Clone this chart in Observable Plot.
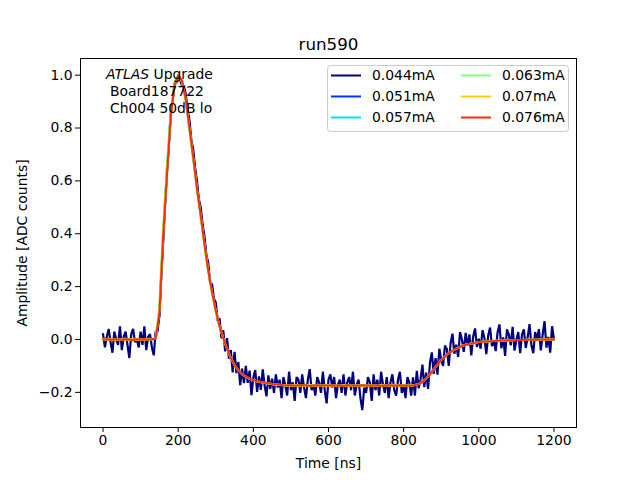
<!DOCTYPE html>
<html><head><meta charset="utf-8">
<script src="https://cdn.jsdelivr.net/npm/d3@7"></script>
<script src="https://cdn.jsdelivr.net/npm/@observablehq/plot@0.6"></script>
<style>
body{margin:0;background:#fff}
#chart{position:relative;width:640px;height:480px}
</style>
</head><body><div id="chart"></div>
<script>
const title = "run590";
const xLabel = "Time [ns]";
const yLabel = "Amplitude [ADC counts]";
const xTicks = [0, 200, 400, 600, 800, 1000, 1200];
const yTicks = [-0.2, 0, 0.2, 0.4, 0.6, 0.8, 1.0];
const seriesLabels = ["0.044mA", "0.051mA", "0.057mA", "0.063mA", "0.07mA", "0.076mA"];
const seriesColors = ["#00007f", "#0036ff", "#00e0ff", "#80ff7c", "#ffcc00", "#ff2e00"];
const noteLines = ["Upgrade", "Board187722", "Ch004 50dB lo"];

// sampling times: noisy series every 5 ns, smooth series every 10 ns
const tNoisy = d3.range(0, 1201, 5);
const tSmooth = d3.range(0, 1201, 10);

const s044 = [
0.02,-0.03,0.01,0.04,-0.01,-0.05,0.03,0.00,-0.02,0.05,-0.04,0.01,0.03,-0.02,-0.07,0.02,0.04,-0.01,0.00,-0.03,0.03,-0.02,0.05,-0.04,0.01,0.02,-0.03,-0.06,0.03,
0.03,0.09,0.25,0.37,0.52,0.64,0.73,0.86,0.90,0.97,0.97,1.00,0.985,0.96,0.96,0.93,0.87,0.83,0.755,0.72,0.65,0.60,0.53,0.50,0.435,0.39,0.32,0.29,0.21,0.21,0.155,0.14,0.07,0.08,0.005,0.035,
-0.045,0.005,-0.073,-0.04,-0.125,-0.047,-0.127,-0.085,-0.173,-0.11,-0.165,-0.10,-0.164,-0.118,-0.211,-0.144,-0.116,-0.198,-0.14,-0.191,-0.113,-0.174,-0.215,-0.136,-0.187,-0.148,
-0.202,-0.132,-0.182,-0.152,-0.222,-0.142,-0.172,-0.212,-0.122,-0.192,
-0.162,-0.232,-0.142,-0.152,-0.202,-0.132,-0.182,-0.222,-0.152,-0.112,
-0.192,-0.172,-0.212,-0.142,-0.162,-0.202,-0.122,-0.192,-0.242,-0.152,
-0.132,-0.182,-0.142,-0.222,-0.172,-0.152,-0.202,-0.132,-0.212,-0.162,
-0.142,-0.192,-0.122,-0.212,-0.172,-0.152,-0.222,-0.267,-0.182,-0.202,
-0.142,-0.162,-0.232,-0.132,-0.192,-0.152,-0.212,-0.122,-0.172,-0.202,
-0.142,-0.222,-0.162,-0.132,-0.192,-0.212,-0.152,-0.122,-0.202,-0.172,
-0.222,-0.142,-0.162,-0.212,
-0.143,-0.212,-0.119,-0.185,-0.15,-0.095,-0.18,-0.125,-0.187,-0.088,-0.049,-0.13,-0.071,-0.133,-0.035,-0.077,-0.10,-0.023,-0.036,-0.10,-0.014,0.022,-0.054,-0.02,-0.066,0.028,0.001,-0.047,0.025,-0.023,0.019,-0.06,0.011,0.042,-0.028,0.003,
-0.035,0.035,0.005,-0.055,0.015,0.045,-0.025,-0.004,-0.044,0.027,0.057,-0.033,0.008,-0.062,0.038,0.018,-0.022,0.048,-0.042,-0.002,0.028,-0.052,0.018,0.038,-0.032,0.008,0.058,-0.022,-0.052,0.028,-0.001,0.039,-0.041,0.019,0.069,-0.031,0.01,-0.05,0.05,0.0
];

const s051 = [
0,0.002,-0.001,0,0.001,-0.002,0,0.001,0,-0.001,0.002,0,-0.001,0.001,0.003,
0.09,0.38,0.62,0.84,0.96,0.995,0.98,0.91,0.80,0.69,0.575,0.47,0.365,0.265,0.18,0.11,0.052,0.007,-0.034,-0.069,-0.096,-0.115,-0.13,-0.14,-0.148,-0.154,-0.158,-0.161,-0.164,-0.166,-0.168,-0.169,-0.171,-0.173,
-0.174,-0.175,-0.173,-0.174,-0.176,-0.174,-0.173,-0.175,-0.174,-0.174,-0.176,-0.173,-0.174,-0.175,-0.174,-0.173,-0.174,-0.176,-0.175,-0.173,-0.174,-0.174,-0.175,-0.173,-0.174,-0.176,-0.174,-0.173,-0.175,-0.174,-0.174,-0.173,-0.175,
-0.175,-0.173,-0.169,-0.161,-0.149,-0.132,-0.114,-0.096,-0.079,-0.065,-0.053,-0.044,-0.036,-0.029,-0.023,-0.019,-0.015,-0.012,-0.010,
-0.009,-0.008,-0.007,-0.006,-0.005,-0.004,-0.004,-0.003,-0.003,-0.002,-0.002,-0.002,-0.001,-0.001,-0.001,-0.001,0,0,0,0
];

const s057 = [
0.001,0,-0.002,0.001,0,0.002,-0.001,0,0.001,-0.001,0,0.002,0,-0.001,0.004,
0.11,0.40,0.63,0.85,0.96,1.0,0.975,0.905,0.795,0.685,0.57,0.465,0.36,0.26,0.178,0.108,0.05,0.005,-0.035,-0.07,-0.097,-0.116,-0.131,-0.141,-0.149,-0.155,-0.159,-0.162,-0.165,-0.167,-0.169,-0.17,-0.172,-0.173,
-0.175,-0.174,-0.173,-0.175,-0.174,-0.176,-0.174,-0.173,-0.174,-0.175,-0.174,-0.173,-0.175,-0.174,-0.176,-0.174,-0.174,-0.173,-0.175,-0.174,-0.173,-0.175,-0.174,-0.174,-0.176,-0.173,-0.174,-0.175,-0.174,-0.173,-0.174,-0.175,-0.174,
-0.174,-0.172,-0.168,-0.16,-0.148,-0.131,-0.113,-0.095,-0.078,-0.064,-0.052,-0.043,-0.035,-0.028,-0.022,-0.018,-0.015,-0.012,-0.010,
-0.009,-0.008,-0.007,-0.006,-0.005,-0.004,-0.004,-0.003,-0.003,-0.002,-0.002,-0.002,-0.001,-0.001,-0.001,-0.001,0,0,0,0
];

const s063 = [
0,-0.001,0.001,0,-0.002,0.001,0,0.002,-0.001,0,0.001,-0.001,0.002,0.001,0.006,
0.13,0.43,0.66,0.86,0.97,1.0,0.975,0.90,0.79,0.68,0.565,0.46,0.355,0.255,0.175,0.105,0.048,0.003,-0.036,-0.071,-0.098,-0.116,-0.131,-0.141,-0.149,-0.155,-0.159,-0.162,-0.165,-0.167,-0.169,-0.17,-0.171,-0.172,
-0.174,-0.175,-0.173,-0.174,-0.176,-0.174,-0.173,-0.175,-0.174,-0.174,-0.176,-0.173,-0.174,-0.175,-0.174,-0.173,-0.174,-0.176,-0.175,-0.173,-0.174,-0.174,-0.175,-0.173,-0.174,-0.176,-0.174,-0.173,-0.175,-0.174,-0.174,-0.173,-0.175,
-0.174,-0.172,-0.168,-0.16,-0.148,-0.131,-0.113,-0.095,-0.078,-0.064,-0.052,-0.043,-0.035,-0.028,-0.022,-0.018,-0.015,-0.012,-0.010,
-0.009,-0.008,-0.007,-0.006,-0.005,-0.004,-0.004,-0.003,-0.003,-0.002,-0.002,-0.002,-0.001,-0.001,-0.001,-0.001,0,0,0,0
];

const s070 = [
0.001,0,0,-0.001,0.001,0,-0.002,0,0.001,0,-0.001,0.001,0,0.002,0.004,
0.11,0.40,0.63,0.845,0.96,1.0,0.98,0.91,0.80,0.69,0.57,0.47,0.36,0.26,0.18,0.11,0.05,0.005,-0.035,-0.07,-0.097,-0.115,-0.13,-0.14,-0.148,-0.154,-0.158,-0.161,-0.164,-0.166,-0.168,-0.17,-0.172,-0.173,
-0.175,-0.174,-0.173,-0.175,-0.174,-0.176,-0.174,-0.173,-0.174,-0.175,-0.174,-0.173,-0.175,-0.174,-0.176,-0.174,-0.174,-0.173,-0.175,-0.174,-0.173,-0.175,-0.174,-0.174,-0.176,-0.173,-0.174,-0.175,-0.174,-0.173,-0.174,-0.175,-0.174,
-0.174,-0.172,-0.168,-0.16,-0.148,-0.131,-0.113,-0.095,-0.078,-0.064,-0.052,-0.043,-0.035,-0.028,-0.022,-0.018,-0.015,-0.012,-0.010,
-0.009,-0.008,-0.007,-0.006,-0.005,-0.004,-0.004,-0.003,-0.003,-0.002,-0.002,-0.002,-0.001,-0.001,-0.001,-0.001,0,0,0,0
];

const s076 = [
0,0.001,-0.001,0.001,0,-0.001,0.001,0,-0.002,0.001,0,0.001,-0.001,0.001,0.003,
0.10,0.39,0.62,0.84,0.96,1.0,0.98,0.91,0.80,0.69,0.57,0.47,0.36,0.26,0.18,0.11,0.05,0.005,-0.035,-0.07,-0.097,-0.115,-0.13,-0.14,-0.148,-0.154,-0.158,-0.161,-0.164,-0.166,-0.168,-0.169,-0.171,-0.173,
-0.174,-0.173,-0.175,-0.174,-0.173,-0.174,-0.176,-0.174,-0.173,-0.175,-0.174,-0.174,-0.173,-0.175,-0.174,-0.176,-0.173,-0.174,-0.175,-0.174,-0.173,-0.174,-0.175,-0.173,-0.174,-0.176,-0.174,-0.173,-0.175,-0.174,-0.173,-0.174,-0.175,
-0.175,-0.172,-0.168,-0.16,-0.148,-0.131,-0.113,-0.095,-0.078,-0.064,-0.052,-0.043,-0.035,-0.028,-0.022,-0.018,-0.015,-0.012,-0.010,
-0.009,-0.008,-0.007,-0.006,-0.005,-0.004,-0.004,-0.003,-0.003,-0.002,-0.002,-0.002,-0.001,-0.001,-0.001,-0.001,0,0,0,0
];

const seriesValues = [s044, s051, s057, s063, s070, s076];
const seriesTimes = [tNoisy, tSmooth, tSmooth, tSmooth, tSmooth, tSmooth];

const noisyRows = [];
const smoothRows = [];
seriesValues.forEach((vals, k) => {
  const ts = seriesTimes[k];
  const n = Math.min(vals.length, ts.length);
  const target = k === 0 ? noisyRows : smoothRows;
  for (let i = 0; i < n; i++) target.push({t: ts[i], v: vals[i], s: seriesLabels[k]});
});

const fmtY = d => (d < 0 ? "\u2212" : "") + Math.abs(d).toFixed(1);
const FONT = "DejaVu Sans, sans-serif";

const chart = Plot.plot({
  width: 640, height: 480,
  marginLeft: 80, marginRight: 64, marginTop: 58, marginBottom: 53,
  style: {fontFamily: FONT, fontSize: "13.9px", background: "white", color: "black"},
  x: {domain: [-60, 1260]},
  y: {domain: [-0.333, 1.063]},
  color: {domain: seriesLabels, range: seriesColors},
  marks: [
    Plot.line(noisyRows, {x: "t", y: "v", z: "s", stroke: "s", strokeWidth: 2.2, strokeLinejoin: "miter"}),
    Plot.line(smoothRows, {x: "t", y: "v", z: "s", stroke: "s", strokeWidth: 2}),
    Plot.frame({stroke: "black", strokeWidth: 1}),
    Plot.axisX({ticks: xTicks, tickSize: 5, tickPadding: 3, label: null, tickFormat: d => String(d), fontSize: 13.9}),
    Plot.axisY({ticks: yTicks, tickSize: 5, tickPadding: 3, label: null, tickFormat: fmtY, fontSize: 13.9}),
    Plot.text([xLabel], {frameAnchor: "bottom", dy: 36, textAnchor: "middle", lineAnchor: "middle", fontSize: 13.9}),
    Plot.text([yLabel], {frameAnchor: "left", dx: -58, rotate: -90, textAnchor: "middle", lineAnchor: "middle", fontSize: 13.9}),
    Plot.text([title], {frameAnchor: "top", dy: -14, textAnchor: "middle", lineAnchor: "middle", fontSize: 16.7})
  ]
});

const svg = d3.select(chart);
// annotation
const note = svg.append("g").attr("font-family", FONT).attr("font-size", 13.9).attr("fill", "black").attr("text-anchor", "start");
const t1 = note.append("text").attr("x", 106).attr("y", 74).attr("dy", "0.35em").attr("text-anchor", "start");
t1.append("tspan").attr("font-style", "italic").text("ATLAS");
t1.append("tspan").text(" " + noteLines[0]);
note.append("text").attr("x", 110).attr("y", 91).attr("dy", "0.35em").attr("text-anchor", "start").text(noteLines[1]);
note.append("text").attr("x", 110).attr("y", 108).attr("dy", "0.35em").attr("text-anchor", "start").text(noteLines[2]);

// legend
const lg = svg.append("g").attr("font-family", FONT).attr("font-size", 13.9).attr("text-anchor", "start");
lg.append("rect").attr("x", 327.5).attr("y", 65.5).attr("width", 241).attr("height", 66).attr("rx", 3)
  .attr("fill", "white").attr("fill-opacity", 0.8).attr("stroke", "#cccccc").attr("stroke-width", 1);
seriesLabels.forEach((lab, i) => {
  const col = Math.floor(i / 3), row = i % 3;
  const x0 = 331 + col * 130, y0 = 75.5 + row * 21;
  lg.append("line").attr("x1", x0).attr("x2", x0 + 30).attr("y1", y0).attr("y2", y0)
    .attr("stroke", seriesColors[i]).attr("stroke-width", 2);
  lg.append("text").attr("x", x0 + 41).attr("y", y0).attr("dy", "0.35em").attr("fill", "black").attr("text-anchor", "start").text(lab);
});

document.getElementById("chart").appendChild(chart);
</script>
</body></html>
